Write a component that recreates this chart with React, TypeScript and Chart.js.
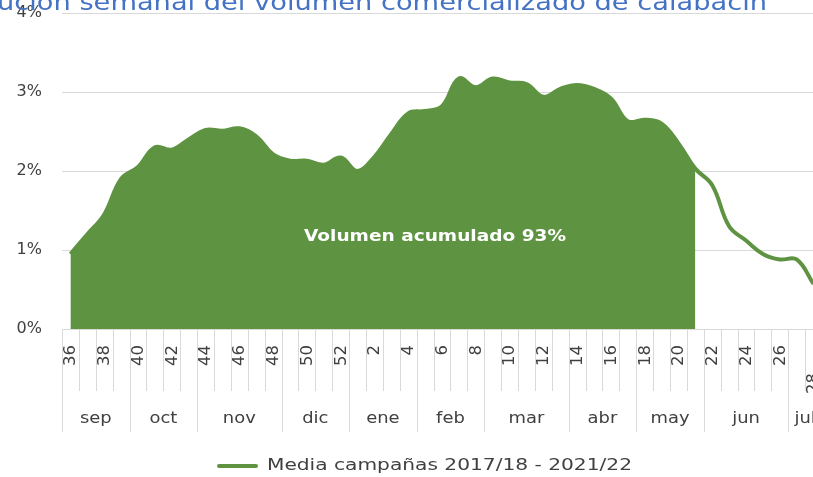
import React, { useEffect, useRef } from 'react';
import { Chart, registerables } from 'chart.js';

Chart.register(...registerables);

// ---------- data ----------
const titleText = 'Evolución semanal del volumen comercializado de calabacín';
const seriesLabel = 'Media campañas 2017/18 - 2021/22';
const annotationText = 'Volumen acumulado 93%';

const weeks = [
  '36', '37', '38', '39', '40', '41', '42', '43', '44', '45', '46', '47', '48', '49', '50', '51', '52',
  '1', '2', '3', '4', '5', '6', '7', '8', '9', '10', '11', '12', '13', '14', '15', '16', '17', '18',
  '19', '20', '21', '22', '23', '24', '25', '26', '27', '28',
];

const months = ['sep', 'oct', 'nov', 'dic', 'ene', 'feb', 'mar', 'abr', 'may', 'jun', 'jul'];
const monthWeekCounts = [4, 4, 5, 4, 4, 4, 5, 4, 4, 5, 2];

// weekly share of volume (%)
const mediaValues = [
  0.95, 1.2, 1.45, 1.9, 2.05, 2.3, 2.27, 2.4, 2.52, 2.51, 2.54, 2.44, 2.21, 2.13, 2.13, 2.08, 2.17,
  2.0, 2.18, 2.47, 2.73, 2.76, 2.82, 3.17, 3.06, 3.17, 3.12, 3.1, 2.94, 3.04, 3.09, 3.04, 2.92, 2.63, 2.65,
  2.6, 2.35, 2.03, 1.82, 1.3, 1.12, 0.95, 0.88, 0.88, 0.57,
];

const accumulatedUntilWeek = '21';
const yTicks = [0, 1, 2, 3, 4];

// ---------- styles ----------
const GREEN = '#5E9341';
const TEXT = '#404040';
const GRID = '#D9D9D9';
const FONT = '"DejaVu Sans", sans-serif';

const accumEnd = weeks.indexOf(accumulatedUntilWeek);
const areaValues = mediaValues.map((v, i) => (i <= accumEnd ? v : null));

// draws text horizontally stretched so it spans `target` pixels (wide-font look)
function drawWide(
  ctx: CanvasRenderingContext2D,
  text: string,
  x: number,
  y: number,
  target: number,
  align: 'left' | 'center' | 'right',
  measureText?: string,
) {
  const w = ctx.measureText(measureText ?? text).width;
  const sx = Math.max(0.8, Math.min(1.4, target / w));
  ctx.save();
  ctx.translate(x, y);
  ctx.scale(sx, 1);
  ctx.textAlign = align;
  ctx.fillText(text, 0, 0);
  ctx.restore();
}

const decorPlugin = {
  id: 'decor',
  afterDraw(chart: any) {
    const { ctx, chartArea, scales } = chart;
    const x = scales.x;
    const n = weeks.length;
    const half = (x.getPixelForValue(1) - x.getPixelForValue(0)) / 2;
    const bottom = chartArea.bottom;
    ctx.save();

    // week separators
    ctx.strokeStyle = GRID;
    ctx.lineWidth = 1;
    const monthBounds = new Set<number>();
    let acc = 0;
    monthBounds.add(0);
    monthWeekCounts.forEach((c) => {
      acc += c;
      monthBounds.add(acc);
    });
    for (let i = 0; i <= n; i++) {
      const px = Math.round(x.getPixelForValue(0) - half + i * 2 * half) + 0.5;
      const yEnd = monthBounds.has(i) ? bottom + 103 : bottom + 62;
      ctx.beginPath();
      ctx.moveTo(px, bottom);
      ctx.lineTo(px, yEnd);
      ctx.stroke();
    }

    // week labels (rotated)
    ctx.fillStyle = TEXT;
    ctx.font = `15px ${FONT}`;
    ctx.textAlign = 'right';
    ctx.textBaseline = 'middle';
    weeks.forEach((w, i) => {
      if (parseInt(w, 10) % 2 !== 0) return;
      const px = x.getPixelForValue(i);
      const top = i === n - 1 ? bottom + 44 : bottom + 16;
      ctx.save();
      ctx.translate(px + 1, top);
      ctx.rotate(-Math.PI / 2);
      ctx.scale(1.1, 1);
      ctx.fillText(w, 0, 0);
      ctx.restore();
    });

    // month labels
    ctx.font = `16px ${FONT}`;
    ctx.textBaseline = 'middle';
    let start = 0;
    months.forEach((m, k) => {
      const c = monthWeekCounts[k];
      const x0 = x.getPixelForValue(start) - half;
      const x1 = x.getPixelForValue(start + c - 1) + half;
      const w = ctx.measureText(m).width;
      drawWide(ctx, m, (x0 + x1) / 2, bottom + 90, w * 1.12, 'center');
      start += c;
    });

    // annotation inside area
    ctx.fillStyle = '#FFFFFF';
    ctx.font = `bold 16px ${FONT}`;
    ctx.textBaseline = 'middle';
    drawWide(ctx, annotationText, 304, 237, 262, 'left');

    // title (partially outside the view)
    ctx.fillStyle = '#4472C4';
    ctx.font = `23px ${FONT}`;
    ctx.textBaseline = 'alphabetic';
    drawWide(ctx, titleText, 767, 10, 770, 'right', titleText.slice(titleText.indexOf('ución')));

    // legend
    ctx.strokeStyle = GREEN;
    ctx.lineWidth = 4;
    ctx.lineCap = 'round';
    ctx.beginPath();
    ctx.moveTo(219, 466);
    ctx.lineTo(256, 466);
    ctx.stroke();
    ctx.fillStyle = TEXT;
    ctx.font = `16px ${FONT}`;
    ctx.textBaseline = 'middle';
    drawWide(ctx, chart.data.datasets[0].label, 267, 466, 365, 'left');

    ctx.restore();
  },
};

export default function App() {
  const ref = useRef<HTMLCanvasElement | null>(null);

  useEffect(() => {
    if (!ref.current) return;
    const chart = new Chart(ref.current, {
      type: 'line',
      data: {
        labels: weeks,
        datasets: [
          {
            label: seriesLabel,
            data: mediaValues,
            borderColor: GREEN,
            borderWidth: 4,
            pointRadius: 0,
            tension: 0.4,
            fill: false,
            order: 0,
          },
          {
            label: 'acumulado',
            data: areaValues,
            borderColor: GREEN,
            backgroundColor: GREEN,
            borderWidth: 0,
            pointRadius: 0,
            tension: 0.4,
            fill: 'origin',
            order: 1,
          },
        ],
      },
      options: {
        responsive: false,
        animation: false,
        devicePixelRatio: 1,
        layout: { padding: { top: 13, left: 0, right: 0, bottom: 0 } },
        plugins: {
          legend: { display: false },
          title: { display: false },
          tooltip: { enabled: false },
        },
        scales: {
          x: {
            type: 'category',
            offset: true,
            grid: { display: false },
            border: { display: false },
            ticks: { display: false },
            afterFit: (s: any) => {
              s.height = 148;
            },
          },
          y: {
            min: 0,
            max: 4,
            afterBuildTicks: (s: any) => {
              s.ticks = yTicks.map((v) => ({ value: v }));
            },
            grid: { color: GRID, lineWidth: 1, drawTicks: false },
            border: { display: false },
            ticks: {
              padding: 20,
              color: TEXT,
              font: { family: FONT, size: 16 },
              callback: (v: any) => `${v}%`,
            },
            afterFit: (s: any) => {
              s.width = 62;
              s.paddingTop = 0;
              s.paddingBottom = 0;
            },
          },
        },
      },
      plugins: [decorPlugin],
    });
    return () => chart.destroy();
  }, []);

  return (
    <div
      style={{
        position: 'fixed',
        left: 0,
        top: 0,
        width: 813,
        height: 477,
        overflow: 'hidden',
        background: '#ffffff',
      }}
    >
      <canvas ref={ref} width={822} height={477} style={{ display: 'block', width: 822, height: 477 }} />
    </div>
  );
}
